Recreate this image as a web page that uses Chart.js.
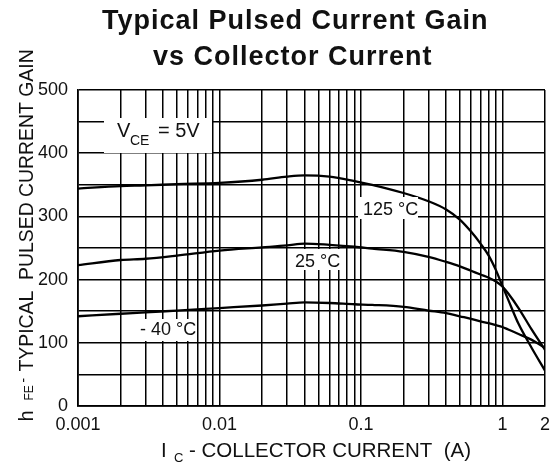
<!DOCTYPE html>
<html>
<head>
<meta charset="utf-8">
<script src="https://cdn.jsdelivr.net/npm/chart.js@4"></script>
<style>
html,body{margin:0;padding:0;background:#fff;}
canvas{display:block;}
</style>
</head>
<body>
<canvas id="c" width="558" height="466"></canvas>
<script>
// Collector current (A)
const CURRENT_A = [0.001, 0.002, 0.003, 0.005, 0.01, 0.02, 0.03, 0.04, 0.06, 0.09, 0.12, 0.2, 0.3, 0.4, 0.5, 0.6, 0.7, 0.8, 0.9, 1.0, 1.1, 1.3, 1.6, 2.0];
// hFE at each temperature
const GAIN_125C = [344, 348, 349, 351, 353, 358, 363, 365, 363, 356, 350, 337, 324, 311, 295, 276, 257, 238, 215, 190, 168, 130, 93, 56];
const GAIN_25C  = [223, 231, 233, 238, 246, 251, 254, 257, 255, 252, 249, 244, 236, 228, 221, 214, 208, 203, 197, 189, 178, 155, 122, 89];
const GAIN_M40C = [142, 146, 148, 151, 155, 159, 162, 164, 163, 161, 160, 157, 151, 147, 142, 138, 134, 131, 128, 125, 121, 114, 105, 92];

// Axis grid / tick values
const X_GRID = [0.001,0.002,0.003,0.004,0.005,0.006,0.007,0.008,0.009,
                0.01,0.02,0.03,0.04,0.05,0.06,0.07,0.08,0.09,
                0.1,0.2,0.3,0.4,0.5,0.6,0.7,0.8,0.9,
                1,2];
const X_LABEL_VALUES = [0.001, 0.01, 0.1, 1, 2];
const X_LABEL_TEXT   = ['0.001', '0.01', '0.1', '1', '2'];
const Y_LABEL_VALUES = [0, 100, 200, 300, 400, 500];

const FONT = "'Liberation Sans', Arial, Helvetica, sans-serif";

function toPoints(ys) { return CURRENT_A.map((x, i) => ({x: x, y: ys[i]})); }

function runs(ctx, list, x, y) {
  for (const r of list) {
    ctx.font = (r.w || 'normal') + ' ' + r.s + 'px ' + FONT;
    ctx.fillText(r.t, (r.x !== undefined ? r.x : x), y + (r.dy || 0));
    x = (r.x !== undefined ? r.x : x) + ctx.measureText(r.t).width;
  }
}

const textPlugin = {
  id: 'texts',
  afterDatasetsDraw(chart) {
    const ctx = chart.ctx;
    ctx.save();
    ctx.textBaseline = 'alphabetic';
    ctx.textAlign = 'left';
    const boxes = [
      {r:[104,118,108,35], parts:[{t:'V',s:20,x:117},{t:'CE',s:14,x:130,dy:8},{t:'= 5V',s:20,x:158}], y:137},
      {r:[358,197,60,22], parts:[{t:'125 °C',s:18,x:363}], y:215},
      {r:[292,249,48,21], parts:[{t:'25 °C',s:18,x:295}], y:266.5},
      {r:[135,319,62,22], parts:[{t:'- 40 °C',s:18,x:140}], y:335}
    ];
    for (const b of boxes) {
      ctx.fillStyle = '#fff';
      ctx.fillRect(b.r[0], b.r[1], b.r[2], b.r[3]);
      ctx.fillStyle = '#111';
      runs(ctx, b.parts, 0, b.y);
    }
    ctx.restore();
  },
  afterDraw(chart) {
    const ctx = chart.ctx;
    ctx.save();
    ctx.fillStyle = '#111';
    ctx.textAlign = 'left';
    ctx.textBaseline = 'alphabetic';
    // Title
    if ('letterSpacing' in ctx) ctx.letterSpacing = '1px';
    ctx.font = 'bold 27px ' + FONT;
    ctx.fillText('Typical Pulsed Current Gain', 102, 28.5);
    ctx.fillText('vs Collector Current', 153, 65);
    if ('letterSpacing' in ctx) ctx.letterSpacing = '0px';
    // X axis title
    runs(ctx, [{t:'I',s:20.5,x:161},{t:'C',s:13,x:174,dy:5},{t:'- COLLECTOR CURRENT  (A)',s:20.5,x:189}], 0, 457);
    // Y axis title (rotated)
    ctx.translate(33, 421.5);
    ctx.rotate(-Math.PI / 2);
    runs(ctx, [{t:'h',s:20,x:0},{t:'FE',s:12,x:21},{t:'-',s:14,x:39,dy:-5},{t:'TYPICAL  PULSED CURRENT GAIN',s:19.4,x:50}], 0, 0);
    ctx.restore();
  }
};

const lineStyle = {
  borderColor: '#000',
  borderWidth: 2.3,
  pointRadius: 0,
  fill: false,
  cubicInterpolationMode: 'monotone'
};

new Chart(document.getElementById('c'), {
  type: 'line',
  data: {
    datasets: [
      Object.assign({label: '125 °C', data: toPoints(GAIN_125C)}, lineStyle),
      Object.assign({label: '25 °C', data: toPoints(GAIN_25C)}, lineStyle),
      Object.assign({label: '-40 °C', data: toPoints(GAIN_M40C)}, lineStyle)
    ]
  },
  options: {
    responsive: false,
    animation: false,
    devicePixelRatio: 1,
    layout: { padding: { top: 90, right: 6, bottom: 0, left: 0 } },
    plugins: { legend: { display: false }, title: { display: false }, tooltip: { enabled: false } },
    scales: {
      x: {
        type: 'logarithmic',
        min: 0.001,
        max: 2,
        afterBuildTicks: (s) => { s.ticks = X_GRID.map(v => ({value: v})); },
        afterFit: (s) => { s.height = 60; },
        grid: { color: '#000', lineWidth: 1.5, drawTicks: false },
        border: { color: '#000', width: 1.7 },
        ticks: {
          autoSkip: false, maxRotation: 0, padding: 8,
          color: '#111',
          font: { family: FONT, size: 18 },
          callback: (v) => { const i = X_LABEL_VALUES.findIndex(u => Math.abs(u - v) < 1e-9); return i >= 0 ? X_LABEL_TEXT[i] : ''; }
        }
      },
      y: {
        type: 'linear',
        min: 0,
        max: 500,
        afterFit: (s) => { s.width = 78; },
        grid: { color: '#000', lineWidth: 1.5, drawTicks: false },
        border: { color: '#000', width: 1.7 },
        ticks: {
          stepSize: 50, padding: 10,
          color: '#111',
          font: { family: FONT, size: 18 },
          callback: (v) => Y_LABEL_VALUES.includes(v) ? String(v) : ''
        }
      }
    }
  },
  plugins: [textPlugin]
});
</script>
</body>
</html>
